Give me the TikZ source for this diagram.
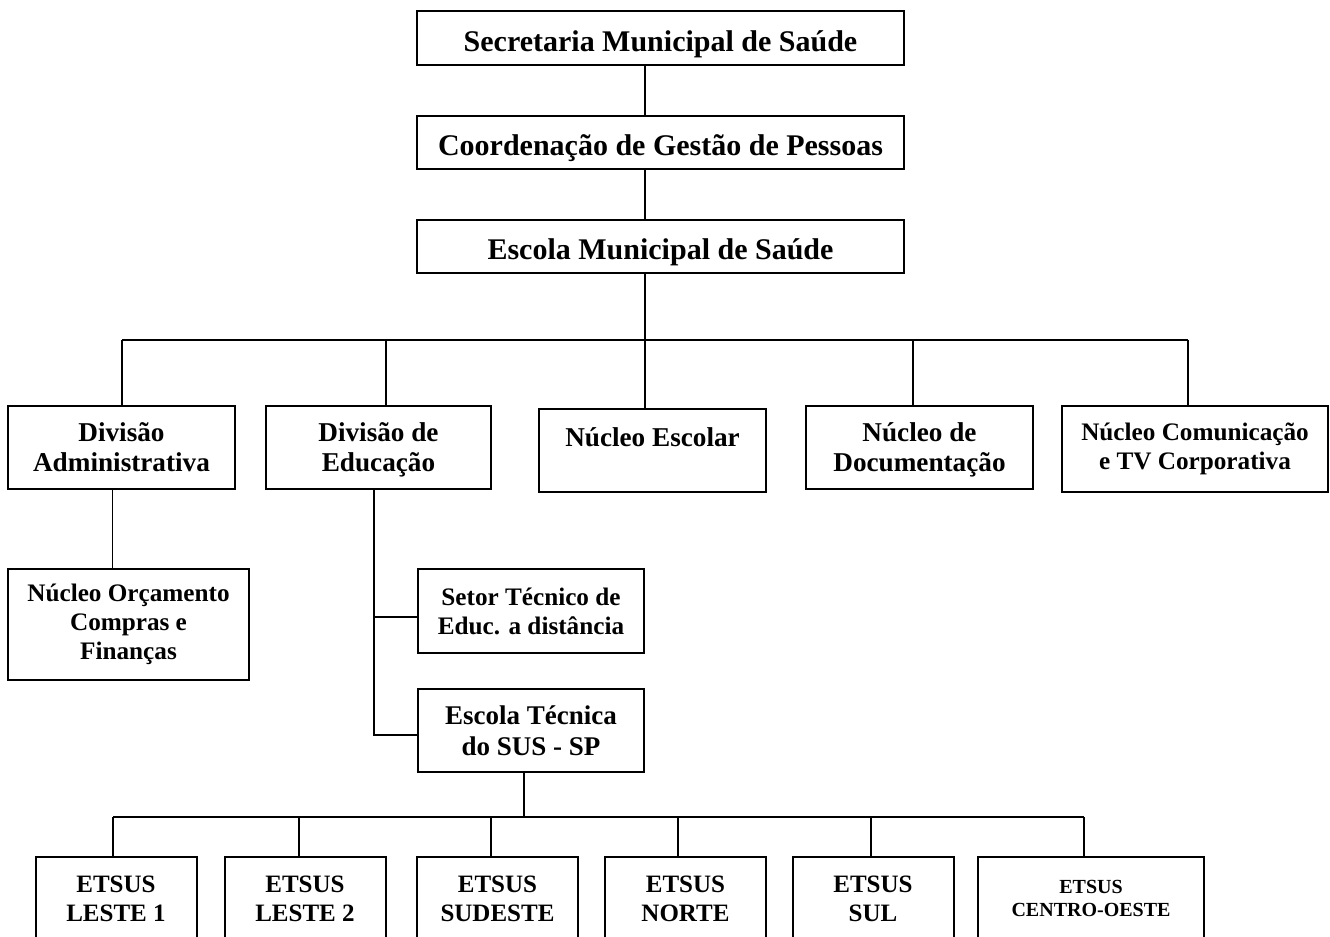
\documentclass[tikz,border=0pt]{standalone}
\usepackage{fontspec}
\setmainfont{Liberation Serif}
\usetikzlibrary{positioning}

\tikzset{
  caixa/.style={draw, line width=1pt, align=center, inner sep=1pt, font=\bfseries\fontsize{13.6}{15}\selectfont},
  topo/.style={caixa, minimum width=243.5pt, minimum height=26.75pt, text height=15pt, text depth=1.75pt, font=\bfseries\fontsize{15}{16}\selectfont},
  divisao/.style={caixa, minimum width=113.5pt, minimum height=41.5pt, text depth=0pt},
  menor/.style={font=\bfseries\fontsize{12.6}{14.5}\selectfont},
  etsus/.style={caixa, minimum width=80.5pt, minimum height=41.5pt, font=\bfseries\fontsize{12.5}{14.5}\selectfont},
  liga/.style={line width=0.75pt}
}

\begin{document}
\begin{tikzpicture}[x=0.5pt, y=-0.5pt]
    \useasboundingbox (0,0) rectangle (1330,937);
    \clip (0,0) rectangle (1330,937);

    \node[topo] (sms) at (660.5,38) {Secretaria Municipal de Saúde};
    \node[topo] (cgp) at (660.5,142.5) {Coordenação de Gestão de Pessoas};
    \node[topo] (ems) at (660.5,246.5) {Escola Municipal de Saúde};

    \node[divisao] (divadm) at (121.5,447.5) {Divisão\\Administrativa};
    \node[divisao, minimum width=112.5pt] (diveduc) at (378.5,447.5) {Divisão de\\Educação};
    \node[caixa, minimum width=113.5pt, minimum height=41.5pt, text height=10pt, text depth=14.5pt] (nesc) at (652.5,450.5) {Núcleo Escolar};
    \node[divisao] (ndoc) at (919.5,447.5) {Núcleo de\\Documentação};
    \node[caixa, menor, minimum width=133pt, minimum height=43pt] (ncom) at (1195,449) {Núcleo Comunicação\\e TV Corporativa};

    \node[caixa, menor, minimum width=120.5pt, minimum height=55.5pt] (norc) at (128.5,624.5) {Núcleo Orçamento\\Compras e\\Finanças};
    \node[caixa, menor, minimum width=113pt, minimum height=42pt] (setor) at (531,611) {Setor Técnico de\\Educ. a distância};
    \node[caixa, font=\bfseries\fontsize{13.5}{15.5}\selectfont, minimum width=113pt, minimum height=41.5pt] (etsp) at (531,730.5) {Escola Técnica\\do SUS - SP};

    \node[etsus] (e1) at (116,898.5) {ETSUS\\LESTE 1};
    \node[etsus] (e2) at (305,898.5) {ETSUS\\LESTE 2};
    \node[etsus] (e3) at (497.5,898.5) {ETSUS\\SUDESTE};
    \node[etsus] (e4) at (685.5,898.5) {ETSUS\\NORTE};
    \node[etsus] (e5) at (873,898.5) {ETSUS\\SUL};
    \node[etsus, minimum width=113pt, font=\bfseries\fontsize{10}{11.5}\selectfont] (e6) at (1091,898.5) {ETSUS\\CENTRO-OESTE};

    \coordinate (tronco) at (645,340);
    \coordinate (b1) at (122,340);
    \coordinate (b2) at (386,340);
    \coordinate (b4) at (913,340);
    \coordinate (b5) at (1188,340);
    \draw[liga] (sms.south -| tronco) -- (cgp.north -| tronco);
    \draw[liga] (cgp.south -| tronco) -- (ems.north -| tronco);
    \draw[liga] (ems.south -| tronco) -- (tronco);
    \draw[liga] (b1) -- (b5);
    \foreach \c/\n in {b1/divadm, b2/diveduc, tronco/nesc, b4/ndoc, b5/ncom}
        \draw[liga] (\c) -- (\c |- \n.north);

    \draw[liga] ([xshift=-4.5pt]divadm.south) -- ([xshift=-4.5pt]divadm.south |- norc.north);

    \coordinate (eixo) at ([xshift=-2.25pt]diveduc.south);
    \draw[liga] (eixo) |- ([yshift=-2.25pt]etsp.west);
    \draw[liga] ([yshift=-3pt]setor.west) -| (eixo);

    \coordinate (c1) at (113,817);
    \coordinate (c2) at (299,817);
    \coordinate (c3) at (491,817);
    \coordinate (c4) at (678,817);
    \coordinate (c5) at (871,817);
    \coordinate (c6) at (1084,817);
    \draw[liga] (c1) -- (c6);
    \draw[liga] ([xshift=-3.5pt]etsp.south) -- ([xshift=-3.5pt]etsp.south |- c1);
    \foreach \i in {1,...,6}
        \draw[liga] (c\i) -- (c\i |- e\i.north);
\end{tikzpicture}
\end{document}
